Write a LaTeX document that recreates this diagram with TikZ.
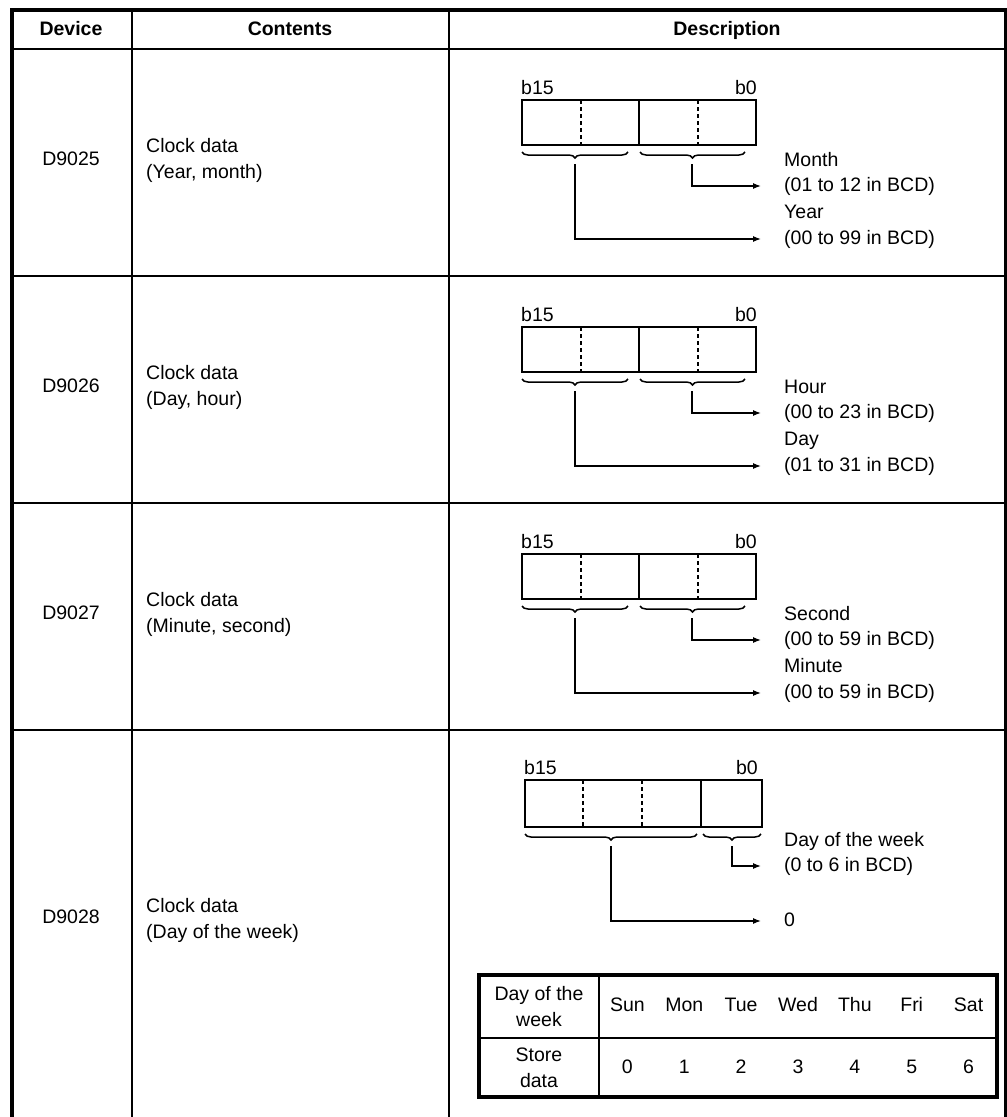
\documentclass[tikz,border=0pt]{standalone}
\usepackage{fontspec}
\setmainfont{Liberation Sans}
\usetikzlibrary{arrows.meta,decorations.pathreplacing}

\begin{document}
\begin{tikzpicture}[x=1pt,y=-1pt,
    txt/.style={font=\fontsize{19.5}{26}\selectfont, inner sep=0pt},
    word/.style={txt, text height=14pt, text depth=4pt},
    head/.style={word, font=\fontsize{19.5}{26}\selectfont\bfseries},
    cell/.style={txt, align=left, anchor=west},
    line/.style={word, anchor=west},
    grid/.style={line width=2.2pt},
    frame/.style={line width=4pt},
    reg/.style={line width=1.5pt},
    split/.style={line width=1.8pt, dash pattern=on 4pt off 3pt},
    brc/.style={line width=1.5pt, decorate, decoration={brace, mirror, amplitude=6pt}},
    arr/.style={line width=1.2pt, -{Latex[length=8pt,width=6pt]}}]
    \useasboundingbox (0,0) rectangle (1007,1117);

    % table frame
    \draw[frame] (12,8) -- (12,1117);
    \draw[frame] (10,10) -- (1007,10);
    \draw[grid] (1005.5,10) -- (1005.5,1117);
    \foreach \x in {132,449} \draw[grid] (\x,10) -- (\x,1117);
    \foreach \y in {49,276,503,730} \draw[grid] (12,\y) -- (1006,\y);

    \node[head] (hdev) at (71,30) {Device};
    \node[head] (hcon) at (290,30) {Contents};
    \node[head] (hdes) at (727,30) {Description};

    % D9025 .. D9027
    \foreach \r/\dev/\what/\lo/\lorng/\hi/\hirng in {0/D9025/{Year, month}/Month/{01 to 12}/Year/{00 to 99},
        1/D9026/{Day, hour}/Hour/{00 to 23}/Day/{01 to 31},
        2/D9027/{Minute, second}/Second/{00 to 59}/Minute/{00 to 59}} {
        \pgfmathsetmacro{\oy}{227*\r}
        \node[word] (dev\r) at (71,160+\oy) {\dev};
        \node[cell] (con\r) at (146,160+\oy) {Clock data\\(\what)};
        \node[line] (msb\r) at (521,89+\oy) {b15};
        \node[word, anchor=east] (lsb\r) at (757,89+\oy) {b0};
        \draw[reg] (522,100+\oy) rectangle (756,145+\oy);
        \draw[reg] (639,100+\oy) -- (639,145+\oy);
        \foreach \x in {581,698} \draw[split] (\x,100+\oy) -- (\x,145+\oy);
        \draw[brc] (522,152+\oy) -- (628,152+\oy);
        \draw[brc] (640,152+\oy) -- (745,152+\oy);
        \coordinate (tiphi\r) at (575,164+\oy);
        \coordinate (tiplo\r) at (692,164+\oy);
        \node[line] (lo\r) at (784,161+\oy) {\lo};
        \node[line] (lorng\r) at (784,186+\oy) {(\lorng\ in BCD)};
        \node[line] (hi\r) at (784,213+\oy) {\hi};
        \node[line] (hirng\r) at (784,239+\oy) {(\hirng\ in BCD)};
        \draw[arr] (tiplo\r) |- ([xshift=-23pt]lorng\r.west);
        \draw[arr] (tiphi\r) |- ([xshift=-23pt]hirng\r.west);
    }

    % D9028
    \node[word] (dev3) at (71,918) {D9028};
    \node[cell] (con3) at (146,920) {Clock data\\(Day of the week)};
    \node[line] (msb3) at (524,769) {b15};
    \node[word, anchor=east] (lsb3) at (758,769) {b0};
    \draw[reg] (525,780) rectangle (762,827);
    \draw[reg] (701,780) -- (701,827);
    \foreach \x in {583,642} \draw[split] (\x,780) -- (\x,827);
    \draw[brc] (525,834) -- (697,834);
    \draw[brc] (703,834) -- (761,834);
    \coordinate (tiphi3) at (611,846);
    \coordinate (tiplo3) at (732,846);
    \node[line] (lo3) at (784,841) {Day of the week};
    \node[line] (lorng3) at (784,866) {(0 to 6 in BCD)};
    \node[line] (hi3) at (784,921) {0};
    \draw[arr] (tiplo3) |- ([xshift=-23pt]lorng3.west);
    \draw[arr] (tiphi3) |- ([xshift=-23pt]hi3.west);

    % day of the week table
    \draw[frame] (479,975) rectangle (997,1097);
    \draw[grid] (479,1038) -- (997,1038);
    \draw[grid] (599,975) -- (599,1097);
    \node[txt, align=center] (dayh) at (539,1007) {Day of the\\week};
    \node[txt, align=center] (storeh) at (539,1068) {Store\\data};
    \foreach \d [count=\i from 0] in {Sun,Mon,Tue,Wed,Thu,Fri,Sat} {
        \node[word] (day\i) at (627.4+56.86*\i,1006) {\d};
        \node[word] (val\i) at (627.4+56.86*\i,1068) {\i};
    }
\end{tikzpicture}
\end{document}
